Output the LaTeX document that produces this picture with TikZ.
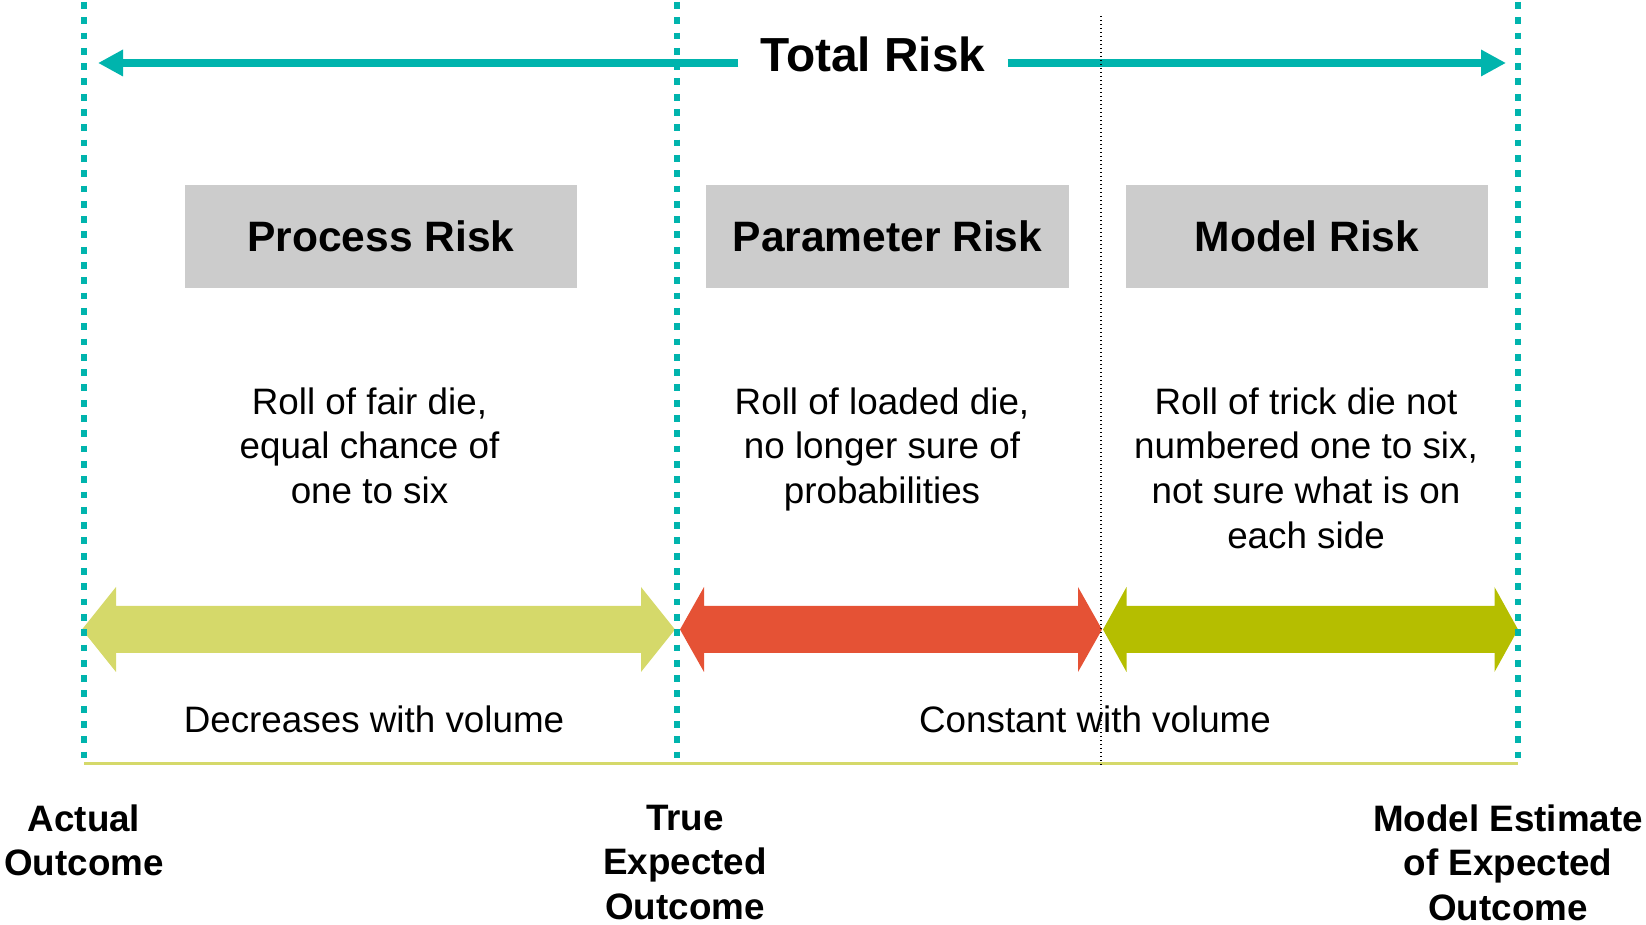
\documentclass[tikz,border=0pt]{standalone}
\usepackage{fontspec}
\setmainfont{Liberation Sans}
\usetikzlibrary{arrows.meta}

\definecolor{riskteal}{HTML}{00B4AD}
\definecolor{riskgray}{HTML}{CCCCCC}
\definecolor{paleolive}{HTML}{D5D96A}
\definecolor{riskred}{HTML}{E55235}
\definecolor{riskolive}{HTML}{B5BE00}

\tikzset{
	tealline/.style={riskteal, line width=0.065cm, dash pattern=on 0.068cm off 0.085cm},
	blackdots/.style={black, line width=0.015cm, dash pattern=on 0.015cm off 0.025cm},
	toparrow/.style={riskteal, line width=0.08cm, -{Triangle[length=0.25cm, width=0.25cm]}},
	riskbox/.style={fill=riskgray, minimum height=1.03cm, inner sep=0pt, font=\fontsize{12.1pt}{14pt}\selectfont\bfseries},
	bodytext/.style={align=center, anchor=north, inner sep=0pt, font=\fontsize{10.47pt}{12.69pt}\selectfont},
	endlabel/.style={bodytext, font=\fontsize{10.47pt}{12.69pt}\selectfont\bfseries},
	volumetext/.style={anchor=base, inner sep=0pt, font=\fontsize{10.47pt}{12.69pt}\selectfont}
}

\begin{document}
\begin{tikzpicture}
	\useasboundingbox (0, 0) rectangle (16.46, 9.24);
	\node(process) [riskbox, minimum width=3.92cm] at (3.81, 6.875) {Process Risk};
	\node(parameter) [riskbox, minimum width=3.63cm] at (8.875, 6.875) {Parameter Risk};
	\node(model) [riskbox, minimum width=3.62cm] at (13.07, 6.875) {Model Risk};
	\node(processtext) [bodytext] at (3.695, 5.37) {Roll of fair die,\\equal chance of\\one to six};
	\node(parametertext) [bodytext] at (8.82, 5.37) {Roll of loaded die,\\no longer sure of\\probabilities};
	\node(modeltext) [bodytext] at (13.06, 5.37) {Roll of trick die not\\numbered one to six,\\not sure what is on\\each side};
	% Total risk spans the whole width
	\node(total) [anchor=base, inner xsep=0.215cm, inner ysep=0pt, font=\fontsize{13.6pt}{16pt}\selectfont\bfseries] at (8.73, 8.52) {Total Risk};
	\coordinate (totalleft) at (0.98, 8.61);
	\coordinate (totalright) at (15.06, 8.61);
	\draw[toparrow] (total.west |- totalleft) -- (totalleft);
	\draw[toparrow] (total.east |- totalright) -- (totalright);
	\foreach \xa/\xb/\hl/\col in {0.82/6.75/0.34/paleolive, 6.80/11.02/0.24/riskred, 11.03/15.18/0.235/riskolive}
		\fill[\col] (\xa, 2.945) -- (\xa+\hl, 3.37) -- (\xa+\hl, 3.18) -- (\xb-\hl, 3.18) -- (\xb-\hl, 3.37) -- (\xb, 2.945)
			-- (\xb-\hl, 2.52) -- (\xb-\hl, 2.71) -- (\xa+\hl, 2.71) -- (\xa+\hl, 2.52) -- cycle;
	\node(decreases) [volumetext] at (3.74, 1.91) {Decreases with volume};
	\node(constant) [volumetext] at (10.95, 1.91) {Constant with volume};
	\draw[paleolive, line width=0.03cm] (0.84, 1.60) -- (15.18, 1.60);
	\foreach \x in {0.84, 6.77, 15.18}
		\draw[tealline] (\x, 9.22) -- (\x, 1.61);
	\draw[blackdots] (11.01, 9.08) -- (11.01, 1.59);
	\node(actual) [endlabel] at (0.84, 1.20) {Actual\\Outcome};
	\node(trueexpected) [endlabel] at (6.85, 1.20) {True\\Expected\\Outcome};
	\node(estimate) [endlabel] at (15.08, 1.20) {Model Estimate\\of Expected\\Outcome};
\end{tikzpicture}
\end{document}
